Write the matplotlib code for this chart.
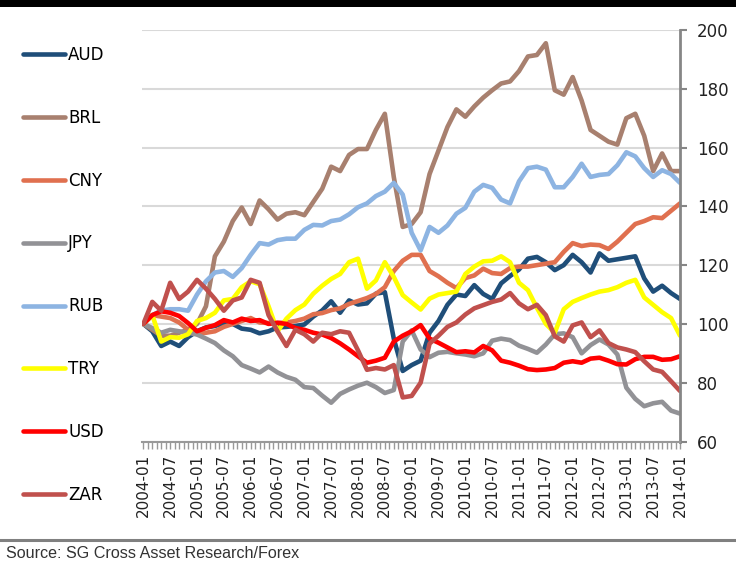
import numpy as np
import matplotlib.pyplot as plt
from matplotlib.lines import Line2D

# month index (0 = 2004-01), sampled every two months
months = np.arange(0, 121, 2)

aud = [100, 97.5, 92.5, 94, 92.5, 95.5, 97.5, 98.8, 99.3, 100.2,
       100, 98.4, 98, 96.8, 97.5, 98.8, 99, 99.3, 99.8, 102.5,
       104.6, 107.7, 103.8, 108, 106.6, 107, 110.3, 110.8, 95, 84,
       86, 87.5, 97, 101, 106.5, 110, 109.5, 113.2, 110.2, 108.5,
       113.8, 116.3, 118.5, 122.2, 122.8, 121, 118.3, 120, 123.5, 121,
       117.5, 124, 121.5, 122, 122.5, 123, 115.5, 111, 113, 110.5, 108.5]
brl = [100, 98, 96, 96, 97, 98, 100, 106, 123, 128,
       135, 139.6, 134, 142, 139, 135.5, 137.5, 138, 137, 141.5,
       146, 153.5, 152, 157.5, 159.5, 159.5, 166, 171.5, 150, 133,
       134, 138, 151, 159, 167, 173, 170.5, 174, 177, 179.5,
       181.8, 182.5, 186, 191, 191.5, 195.5, 179.5, 178, 184, 176,
       166, 164, 162, 161, 170, 171.5, 164, 152, 158, 152, 152]
cny = [100, 103, 102.5, 102, 100.5, 98, 96.5, 97, 97.5, 99,
       100, 101, 102, 100.5, 100.3, 100.3, 100.5, 101, 101.8, 103.3,
       103.7, 104.7, 105.3, 106.8, 107.8, 108.8, 110.2, 112.5, 118, 121.5,
       123.5, 123.5, 118, 116.2, 114, 112.2, 115.6, 116.5, 118.8, 117.3,
       117, 119, 119.5, 119.5, 120, 120.5, 121, 124.5, 127.5, 126.5,
       127, 126.8, 125.5, 128, 131, 134, 135, 136.3, 136, 138.5, 141]
jpy = [100, 98.6, 97, 98, 97.5, 97, 96.4, 95, 93.5, 91,
       89, 86, 84.8, 83.5, 85.5, 83.5, 82, 81, 78.5, 78.2,
       75.6, 73.2, 76.2, 77.7, 79, 80, 78.5, 76.5, 77.5, 94,
       97.8, 91.3, 88.7, 90.2, 90.5, 90, 89.6, 89, 90, 94.3,
       95, 94.5, 92.6, 91.5, 90.2, 93, 96.5, 96.8, 95.5, 90,
       92.8, 94.7, 93, 89.6, 78.3, 74.5, 72, 73, 73.5, 70.5, 69.5]
rub = [100, 103, 104.5, 105, 105, 104.5, 110, 114.5, 117.5, 118,
       116, 119, 123.5, 127.5, 127, 128.5, 129, 129, 132, 133.7,
       133.5, 135, 135.5, 137.3, 139.7, 141, 143.5, 145, 148, 144,
       131, 125, 133, 131, 133.5, 137.5, 139.5, 145, 147.3, 146.3,
       142.3, 141, 148.5, 153, 153.5, 152.5, 146.5, 146.5, 150, 154.5,
       150, 150.7, 151, 154, 158.4, 157, 153, 150, 152.3, 151, 148]
try_ = [100, 103, 94, 95.5, 95.3, 96.5, 101, 102, 103.8, 108,
        108.5, 112.5, 114.5, 113.5, 106, 97.5, 101.8, 104.7, 106.6, 110.3,
        113, 115.3, 117, 121, 122.2, 112, 114.8, 121, 116, 109.8,
        107.3, 104.9, 108.6, 110, 110.5, 111, 117, 119.5, 121.3, 121.5,
        123, 121, 114, 111.5, 105.5, 100, 97, 105, 107.5, 108.8,
        110, 111, 111.5, 112.5, 114, 115, 109, 106.5, 104, 102, 96]
usd = [100, 103, 104.3, 103.8, 102.7, 100.3, 97.5, 98.7, 99.6, 101.3,
       100.5, 101.8, 101, 101.3, 100, 100.4, 100, 98.6, 98, 97,
       96.4, 95.2, 93.4, 91.3, 89, 86.8, 87.5, 88.5, 94, 96,
       97.5, 99.6, 95, 93.6, 92, 90.4, 90.7, 90.3, 92.5, 91,
       87.5, 86.8, 85.8, 84.6, 84.3, 84.5, 85, 86.8, 87.3, 86.8,
       88.2, 88.5, 87.5, 86.3, 86.2, 88, 88.8, 88.8, 87.8, 88, 89]
zar = [100, 107.5, 104.5, 114, 108.5, 111, 115, 112, 108.5, 104.5,
       108, 109, 115, 114, 103, 97.5, 92.5, 98, 96.5, 94,
       97, 96.5, 97.5, 97, 91, 84.4, 85, 84.5, 86, 75,
       75.5, 80, 93.3, 96, 99, 100.5, 103.2, 105.3, 106.4, 107.5,
       108.3, 110.5, 107, 105, 106.5, 103, 95.8, 94, 99.5, 100.5,
       95.5, 97.8, 93.5, 92, 91.3, 90.4, 87.3, 84.5, 83.7, 80.5, 77.2]

names = ['AUD', 'BRL', 'CNY', 'JPY', 'RUB', 'TRY', 'USD', 'ZAR']
series = [aud, brl, cny, jpy, rub, try_, usd, zar]
colors = ['#1f4e79', '#a8806f', '#e0704f', '#929296',
          '#8db4e2', '#ffff00', '#ff0000', '#c0504d']

tick_labels = ['2004-01', '2004-07', '2005-01', '2005-07', '2006-01', '2006-07',
               '2007-01', '2007-07', '2008-01', '2008-07', '2009-01', '2009-07',
               '2010-01', '2010-07', '2011-01', '2011-07', '2012-01', '2012-07',
               '2013-01', '2013-07', '2014-01']

fig = plt.figure(figsize=(7.36, 5.65), dpi=100)
ax = fig.add_axes([142 / 736, 1 - 441.5 / 565, 538 / 736, 411.5 / 565])

lines = []
for name, vals, col in zip(names, series, colors):
    l, = ax.plot(months, vals, color=col, lw=3.3, solid_joinstyle='round',
                 solid_capstyle='round', label=name)
    lines.append(l)

ax.set_xlim(-0.3, 120)
ax.set_ylim(60, 200)
ax.yaxis.tick_right()
ax.set_yticks(np.arange(60, 201, 20))
ax.tick_params(axis='y', direction='out', length=5, width=1.5, color='#868686',
               labelsize=12, pad=7, labelcolor='#222222')
ax.set_xticks(np.arange(0, 121, 6))
ax.set_xticklabels(tick_labels, rotation=90, fontsize=11, color='#222222')
ax.set_xticks(np.arange(0, 121, 1), minor=True)
ax.tick_params(axis='x', which='both', direction='out', length=5, width=1,
               color='#999999', pad=4)
ax.grid(axis='y', color='#d9d9d9', lw=1.5)
ax.set_axisbelow(True)
for s in ['left', 'top']:
    ax.spines[s].set_visible(False)
ax.spines['right'].set_color('#868686')
ax.spines['right'].set_linewidth(2)
ax.spines['bottom'].set_color('#999999')
ax.spines['bottom'].set_linewidth(1.5)

fig.legend(lines, names, loc='upper left', bbox_to_anchor=(23 / 736, 1 - 46 / 565),
           frameon=False, fontsize=12, handlelength=2.5, handletextpad=0.2,
           labelspacing=2.69, borderpad=0, borderaxespad=0)

# top black bar, bottom rule and source note
fig.add_artist(plt.Rectangle((0, 1 - 7 / 565), 1, 7 / 565, transform=fig.transFigure,
                             color='black', lw=0))
fig.add_artist(Line2D([0, 1], [1 - 540 / 565] * 2, transform=fig.transFigure,
                      color='#808080', lw=2.2))
fig.text(6 / 736, 1 - 558 / 565, 'Source: SG Cross Asset Research/Forex', fontsize=11.6,
         family='Liberation Sans', va='baseline', color='#333333')

plt.savefig('out.png', dpi=100)
